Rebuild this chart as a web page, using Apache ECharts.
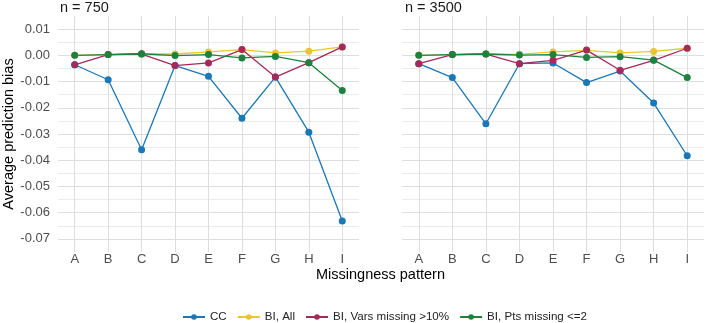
<!DOCTYPE html>
<html>
<head>
<meta charset="utf-8">
<script src="https://cdn.jsdelivr.net/npm/echarts@6/dist/echarts.min.js"></script>
<style>
  html, body { margin: 0; padding: 0; background: #fff; }
  #main { width: 709px; height: 323px; }
</style>
</head>
<body>
<div id="main"></div>
<script>
// missingness patterns
const categories = ['A', 'B', 'C', 'D', 'E', 'F', 'G', 'H', 'I'];
const panels = ['n = 750', 'n = 3500'];
const seriesNames = ['CC', 'BI, All', 'BI, Vars missing >10%', 'BI, Pts missing <=2'];

// n = 750
const cc750 = [-0.0036, -0.0093, -0.0360, -0.0039, -0.0080, -0.0240, -0.0083, -0.0293, -0.0632];
const all750 = [0.0000, 0.0003, 0.0005, 0.0005, 0.0013, 0.0022, 0.0009, 0.0016, 0.0032];
const vars750 = [-0.0036, 0.0003, 0.0005, -0.0039, -0.0029, 0.0022, -0.0083, -0.0028, 0.0032];
const pts750 = [0.0000, 0.0003, 0.0006, -0.0001, 0.0003, -0.0010, -0.0004, -0.0028, -0.0134];

// n = 3500
const cc3500 = [-0.0032, -0.0085, -0.0261, -0.0032, -0.0029, -0.0104, -0.0060, -0.0182, -0.0383];
const all3500 = [0.0000, 0.0003, 0.0005, 0.0004, 0.0013, 0.0019, 0.0009, 0.0015, 0.0027];
const vars3500 = [-0.0032, 0.0003, 0.0005, -0.0032, -0.0019, 0.0020, -0.0057, -0.0019, 0.0027];
const pts3500 = [0.0000, 0.0003, 0.0005, 0.0001, 0.0003, -0.0008, -0.0005, -0.0018, -0.0085];

const colors = ['#1a78b6', '#e9c62e', '#a52a5b', '#1d8140'];
const font = "'Liberation Sans', Arial, sans-serif";

// grid lines: major every 0.01, minor in between, none on the panel edges
const gridColors = [];
for (let i = 0; i <= 18; i++) {
  if (i === 0 || i === 18) gridColors.push('rgba(0,0,0,0)');
  else gridColors.push(i % 2 === 1 ? '#dedede' : '#ececec');
}

const yLabel = (v) => {
  const k = Math.round(v * 1000);
  if (k % 10 !== 0) return '';
  if (k === 0) return '0.00';
  return (k / 1000).toFixed(2);
};

const grids = [
  { left: 57, top: 16, width: 302, height: 236 },
  { left: 402, top: 16, width: 302, height: 236 }
];

const xAxes = grids.map((g, i) => ({
  type: 'category',
  gridIndex: i,
  data: categories,
  boundaryGap: true,
  axisLine: { show: false },
  axisTick: { show: false },
  axisLabel: { color: '#4d4d4d', fontSize: 13, fontFamily: font, margin: 1 },
  splitLine: { show: true, alignWithLabel: true, lineStyle: { color: '#dedede', width: 1 } }
}));

const yAxes = grids.map((g, i) => ({
  type: 'value',
  gridIndex: i,
  min: -0.075,
  max: 0.015,
  interval: 0.005,
  axisLine: { show: false },
  axisTick: { show: false },
  axisLabel: {
    show: i === 0,
    color: '#4d4d4d',
    fontSize: 13,
    fontFamily: font,
    margin: 8,
    formatter: yLabel
  },
  splitLine: { show: true, lineStyle: { color: gridColors, width: 1 } },
  name: i === 0 ? 'Average prediction bias' : '',
  nameLocation: 'middle',
  nameGap: 42,
  nameTextStyle: { color: '#000', fontSize: 14.5, fontFamily: font }
}));

const panelData = [
  [cc750, all750, vars750, pts750],
  [cc3500, all3500, vars3500, pts3500]
];

const series = [];
panelData.forEach((sets, p) => {
  sets.forEach((vals, k) => {
    series.push({
      name: seriesNames[k],
      type: 'line',
      xAxisIndex: p,
      yAxisIndex: p,
      data: vals,
      symbol: 'circle',
      symbolSize: 7,
      color: colors[k],
      lineStyle: { width: 1.3, color: colors[k] },
      itemStyle: { color: colors[k] },
      emphasis: { disabled: true },
      animation: false
    });
  });
});

const chart = echarts.init(document.getElementById('main'), null, { renderer: 'canvas' });
chart.setOption({
  animation: false,
  backgroundColor: '#fff',
  title: [
    { text: panels[0], left: 60, top: 0, padding: 0, textStyle: { color: '#1a1a1a', fontSize: 14.5, fontWeight: 'normal', fontFamily: font } },
    { text: panels[1], left: 405, top: 0, padding: 0, textStyle: { color: '#1a1a1a', fontSize: 14.5, fontWeight: 'normal', fontFamily: font } }
  ],
  grid: grids,
  xAxis: xAxes,
  yAxis: yAxes,
  legend: {
    data: seriesNames,
    left: 177,
    top: 306,
    itemWidth: 22,
    itemHeight: 7,
    itemGap: 10,
    textStyle: { color: '#222', fontSize: 11.6, fontFamily: font }
  },
  graphic: [{
    type: 'text',
    left: 316,
    top: 267,
    style: { text: 'Missingness pattern', fill: '#000', font: '14.5px ' + font }
  }],
  series: series
});
</script>
</body>
</html>
